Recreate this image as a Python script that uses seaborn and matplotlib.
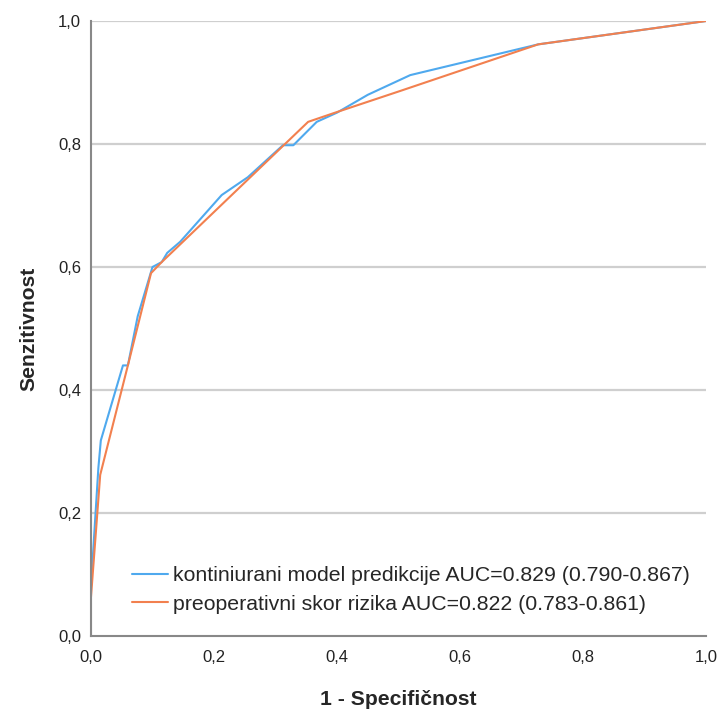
import matplotlib
matplotlib.use("Agg")
import matplotlib.pyplot as plt
import matplotlib.ticker as mticker
import seaborn as sns
import pandas as pd

# ROC coordinates (1 - specificity, sensitivity)
model_fpr = [0.0, 0.0, 0.012, 0.016, 0.052, 0.060, 0.072, 0.076, 0.100, 0.115, 0.124,
             0.145, 0.2125, 0.255, 0.312, 0.329, 0.367, 0.400, 0.450, 0.519, 0.727, 1.0]
model_tpr = [0.0, 0.080, 0.273, 0.318, 0.440, 0.440, 0.500, 0.520, 0.600, 0.608, 0.623,
             0.641, 0.717, 0.746, 0.798, 0.798, 0.836, 0.851, 0.880, 0.912, 0.962, 1.0]

score_fpr = [0.0, 0.0, 0.015, 0.060, 0.0976, 0.115, 0.353, 0.394, 0.502, 0.727, 1.0]
score_tpr = [0.0, 0.063, 0.262, 0.440, 0.590, 0.608, 0.836, 0.850, 0.886, 0.962, 1.0]

labels = ["kontiniurani model predikcije AUC=0.829 (0.790-0.867)",
          "preoperativni skor rizika AUC=0.822 (0.783-0.861)"]
colors = ["#4fa9ee", "#f2804f"]
ticks = [0.0, 0.2, 0.4, 0.6, 0.8, 1.0]

df = pd.concat([
    pd.DataFrame({"fpr": model_fpr, "tpr": model_tpr, "curve": labels[0]}),
    pd.DataFrame({"fpr": score_fpr, "tpr": score_tpr, "curve": labels[1]}),
], ignore_index=True)

sns.set_theme(style="white")
plt.rcParams["font.family"] = ["Liberation Sans", "DejaVu Sans"]

fig = plt.figure(figsize=(7.22, 7.14), dpi=100)
ax = fig.add_axes([0.126, 0.1092, 0.852, 0.8614])

for y in ticks[1:]:
    ax.axhline(y, color="#cfcfcf", lw=1.6, zorder=0)

sns.lineplot(data=df, x="fpr", y="tpr", hue="curve", palette=colors,
             estimator=None, sort=False, lw=1.5, ax=ax)

ax.set_xlim(0, 1)
ax.set_ylim(0, 1)
ax.set_xticks(ticks)
ax.set_yticks(ticks)
fmt = mticker.FuncFormatter(lambda v, p: f"{v:.1f}".replace(".", ","))
ax.xaxis.set_major_formatter(fmt)
ax.yaxis.set_major_formatter(fmt)
ax.tick_params(axis="both", labelsize=12, colors="#222222")
ax.tick_params(axis="y", length=4, width=1, color="#888888", direction="out", pad=3)
ax.tick_params(axis="x", length=0, pad=10)

for side in ["top", "right"]:
    ax.spines[side].set_visible(False)
for side in ["left", "bottom"]:
    ax.spines[side].set_color("#888888")
    ax.spines[side].set_linewidth(1.5)

label_font = dict(fontsize=15.2, fontweight="bold",
                  family=["Liberation Sans Narrow", "Liberation Sans", "DejaVu Sans"])
ax.set_xlabel("1 - Specifičnost", labelpad=18, **label_font)
ax.set_ylabel("Senzitivnost", labelpad=14, **label_font)

leg = ax.legend(loc="lower left", bbox_to_anchor=(0.035, 0.005), frameon=False,
                fontsize=15.3, handlelength=1.7, handletextpad=0.25,
                labelspacing=0.45, title=None)
for line in leg.get_lines():
    line.set_linewidth(1.5)

fig.savefig("out.png", dpi=100, facecolor="white")
